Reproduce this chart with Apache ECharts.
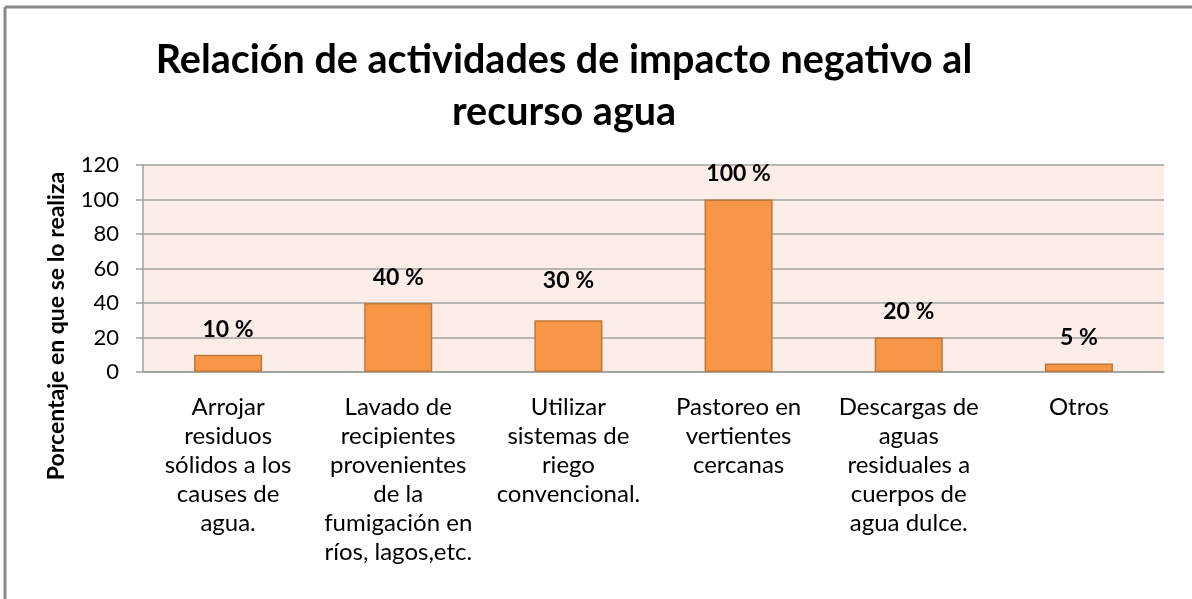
<!DOCTYPE html>
<html>
<head>
<meta charset="utf-8">
<script src="https://cdn.jsdelivr.net/npm/echarts@6/dist/echarts.min.js"></script>
<style>
  html, body { margin: 0; padding: 0; background: #fff; }
  #chart { width: 1192px; height: 599px; }
</style>
</head>
<body>
<div id="chart"></div>
<script>
const titleText = 'Relación de actividades de impacto negativo al\nrecurso agua';
const yName = 'Porcentaje en que se lo realiza';
const categories = [
  'Arrojar\nresiduos\nsólidos a los\ncauses de\nagua.',
  'Lavado de\nrecipientes\nprovenientes\nde la\nfumigación en\nríos, lagos,etc.',
  'Utilizar\nsistemas de\nriego\nconvencional.',
  'Pastoreo en\nvertientes\ncercanas',
  'Descargas de\naguas\nresiduales a\ncuerpos de\nagua dulce.',
  'Otros'
];
const values = [10, 40, 30, 100, 20, 5];

const font = 'Lato';
const chart = echarts.init(document.getElementById('chart'));

// the 30 % label sits a bit higher than the others in the original
const barData = values.map((v, i) => i === 2 ? { value: v, label: { distance: 28 } } : v);

chart.setOption({
  animation: false,
  backgroundColor: '#ffffff',
  title: {
    text: titleText,
    left: 559,
    top: 29,
    textAlign: 'center',
    textStyle: {
      fontFamily: font,
      fontWeight: 'bold',
      fontSize: 39.5,
      lineHeight: 52,
      color: '#000'
    }
  },
  graphic: [
    { type: 'line', shape: { x1: 5, y1: 7, x2: 1192, y2: 7 }, style: { stroke: '#8a8a8a', lineWidth: 3 } },
    { type: 'line', shape: { x1: 5, y1: 7, x2: 5, y2: 599 }, style: { stroke: '#8a8a8a', lineWidth: 3 } },
    // y axis title, placed lower than the plot centre like in the original
    {
      type: 'text',
      x: 57,
      y: 326,
      rotation: Math.PI / 2,
      style: {
        text: yName,
        fontFamily: font,
        fontWeight: 'bold',
        fontSize: 23,
        fill: '#000',
        align: 'center',
        verticalAlign: 'middle'
      }
    }
  ],
  grid: {
    left: 143,
    right: 28,
    top: 165,
    bottom: 227,
    show: true,
    backgroundColor: '#fcede8',
    borderWidth: 0
  },
  xAxis: {
    type: 'category',
    data: categories,
    axisLine: { lineStyle: { color: '#a0a0a0', width: 1.5 } },
    axisTick: { show: false },
    axisLabel: {
      interval: 0,
      margin: 21,
      fontFamily: font,
      fontSize: 24,
      lineHeight: 29,
      color: '#000'
    }
  },
  yAxis: {
    type: 'value',
    min: 0,
    max: 120,
    interval: 20,
    axisLine: { show: true, lineStyle: { color: '#a0a0a0', width: 1.5 } },
    axisTick: { show: true, length: 7, lineStyle: { color: '#a0a0a0', width: 1.5 } },
    axisLabel: {
      margin: 24,
      fontFamily: font,
      fontSize: 22,
      color: '#000'
    },
    splitLine: { lineStyle: { color: '#a0a0a0', width: 1.5 } }
  },
  series: [{
    type: 'bar',
    data: barData,
    barWidth: '40%',
    itemStyle: {
      color: '#f79646',
      borderColor: '#c0783a',
      borderWidth: 1.5
    },
    label: {
      show: true,
      position: 'top',
      distance: 14,
      formatter: '{c} %',
      fontFamily: font,
      fontWeight: 'bold',
      fontSize: 23,
      color: '#000'
    }
  }]
});
</script>
</body>
</html>
